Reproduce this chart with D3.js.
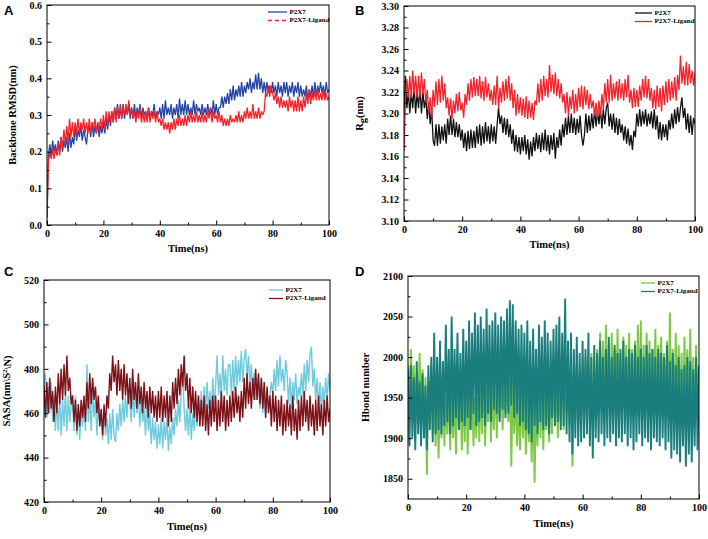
<!DOCTYPE html>
<html><head><meta charset="utf-8">
<script src="https://cdn.jsdelivr.net/npm/d3@7"></script>
<style>body{margin:0;background:#fff}svg{display:block}</style>
</head><body><svg id="c" width="708" height="539"></svg>
<script>
// ---------- DATA (sampled every 0.5 ns, 0..100 ns) ----------
const timeStep = 0.5;
const xTicks = [0, 20, 40, 60, 80, 100];
const seriesNames = ["P2X7", "P2X7-Ligand"];

// A: Backbone RMSD (nm)
const rmsdApo = [
.02,.19,.22,.19,.23,.20,.22,.19,.23,.20,
.24,.20,.23,.21,.24,.20,.25,.21,.24,.22,
.27,.23,.26,.24,.27,.23,.26,.24,.22,.26,
.27,.24,.28,.24,.27,.25,.28,.24,.27,.25,
.28,.25,.29,.26,.30,.27,.31,.28,.32,.29,
.33,.29,.32,.29,.33,.29,.32,.30,.33,.29,
.32,.29,.33,.29,.32,.30,.33,.29,.32,.30,
.31,.29,.32,.29,.31,.30,.33,.29,.31,.30,
.32,.29,.33,.29,.34,.30,.32,.30,.33,.29,
.32,.30,.33,.29,.345,.30,.33,.30,.34,.30,
.33,.30,.32,.30,.34,.30,.33,.31,.32,.30,
.33,.30,.32,.30,.33,.30,.32,.30,.34,.30,
.33,.30,.32,.32,.35,.32,.35,.33,.36,.33,
.37,.34,.38,.34,.37,.35,.38,.35,.39,.35,
.38,.36,.39,.37,.40,.36,.39,.37,.41,.37,
.415,.37,.40,.36,.39,.36,.39,.36,.38,.36,
.39,.36,.38,.35,.39,.36,.38,.35,.39,.36,
.39,.35,.38,.36,.39,.35,.38,.36,.39,.35,
.38,.35,.37,.35,.38,.34,.37,.35,.38,.35,
.39,.35,.38,.36,.39,.36,.38,.35,.39,.36,
.37];
const rmsdLig = [
.02,.17,.20,.18,.21,.18,.21,.19,.22,.19,
.24,.21,.26,.22,.27,.23,.29,.24,.28,.24,
.28,.25,.29,.25,.28,.26,.29,.25,.28,.25,
.29,.25,.28,.26,.29,.25,.28,.26,.29,.26,
.30,.26,.31,.27,.31,.28,.31,.28,.32,.28,
.32,.29,.33,.29,.32,.30,.33,.30,.34,.30,
.32,.29,.31,.28,.31,.29,.32,.28,.31,.28,
.31,.28,.32,.28,.31,.29,.31,.28,.31,.28,
.29,.27,.29,.26,.28,.26,.28,.25,.28,.26,
.29,.26,.29,.27,.30,.27,.29,.27,.30,.27,
.30,.28,.31,.28,.30,.28,.31,.28,.30,.28,
.31,.28,.30,.28,.31,.29,.32,.28,.31,.29,
.30,.28,.31,.28,.30,.27,.29,.27,.29,.27,
.30,.28,.29,.28,.30,.28,.31,.28,.30,.28,
.31,.29,.32,.29,.31,.29,.33,.29,.31,.29,
.32,.29,.31,.30,.31,.36,.35,.38,.35,.38,
.36,.34,.36,.33,.35,.32,.35,.32,.34,.32,
.34,.31,.35,.32,.34,.31,.34,.31,.35,.31,
.34,.31,.35,.32,.36,.33,.37,.33,.36,.34,
.37,.34,.37,.34,.36,.34,.37,.34,.36,.34,
.35];

// B: Rg (nm)
const rgApo = [
3.20,3.235,3.205,3.22,3.20,3.22,3.205,3.225,3.20,3.22,
3.205,3.225,3.20,3.22,3.205,3.215,3.195,3.21,3.19,3.205,
3.175,3.17,3.19,3.17,3.19,3.172,3.188,3.175,3.19,3.172,
3.195,3.18,3.198,3.18,3.195,3.178,3.192,3.178,3.19,3.175,
3.185,3.168,3.182,3.165,3.184,3.167,3.185,3.168,3.184,3.168,
3.188,3.172,3.19,3.17,3.188,3.172,3.192,3.174,3.188,3.172,
3.19,3.174,3.188,3.172,3.19,3.205,3.19,3.198,3.182,3.196,
3.18,3.195,3.178,3.19,3.172,3.185,3.165,3.18,3.164,3.178,
3.162,3.178,3.165,3.18,3.162,3.176,3.157,3.174,3.16,3.178,
3.165,3.182,3.167,3.18,3.164,3.182,3.166,3.185,3.165,3.18,
3.162,3.18,3.166,3.182,3.158,3.178,3.168,3.185,3.17,3.19,
3.178,3.196,3.18,3.198,3.182,3.20,3.182,3.196,3.18,3.195,
3.182,3.198,3.18,3.17,3.18,3.20,3.182,3.198,3.184,3.20,
3.186,3.204,3.188,3.202,3.19,3.205,3.186,3.204,3.19,3.205,
3.21,3.188,3.20,3.185,3.20,3.182,3.196,3.18,3.195,3.182,
3.19,3.175,3.188,3.172,3.186,3.17,3.18,3.166,3.184,3.178,
3.20,3.188,3.204,3.188,3.202,3.19,3.204,3.188,3.20,3.19,
3.202,3.186,3.204,3.185,3.198,3.176,3.192,3.175,3.19,3.178,
3.19,3.175,3.194,3.185,3.20,3.186,3.204,3.19,3.206,3.192,
3.205,3.215,3.196,3.205,3.185,3.20,3.182,3.198,3.18,3.196,
3.19];
const rgLig = [
3.165,3.215,3.232,3.215,3.235,3.215,3.24,3.218,3.235,3.215,
3.235,3.215,3.238,3.218,3.232,3.21,3.222,3.20,3.215,3.196,
3.222,3.206,3.23,3.208,3.232,3.21,3.235,3.212,3.228,3.205,
3.215,3.198,3.214,3.195,3.212,3.20,3.218,3.202,3.22,3.203,
3.21,3.196,3.218,3.208,3.228,3.212,3.232,3.215,3.234,3.216,
3.232,3.216,3.235,3.214,3.23,3.212,3.234,3.215,3.228,3.212,
3.222,3.208,3.226,3.208,3.235,3.205,3.224,3.21,3.23,3.212,
3.232,3.214,3.235,3.212,3.228,3.205,3.222,3.198,3.218,3.20,
3.215,3.198,3.214,3.196,3.216,3.195,3.212,3.196,3.21,3.194,
3.212,3.208,3.228,3.21,3.232,3.212,3.235,3.216,3.232,3.215,
3.245,3.22,3.236,3.218,3.238,3.216,3.232,3.214,3.228,3.21,
3.218,3.20,3.22,3.198,3.216,3.204,3.222,3.20,3.218,3.202,
3.224,3.206,3.226,3.204,3.225,3.208,3.222,3.204,3.218,3.205,
3.212,3.198,3.21,3.196,3.212,3.198,3.218,3.204,3.228,3.21,
3.232,3.21,3.236,3.212,3.228,3.214,3.23,3.212,3.232,3.214,
3.228,3.212,3.232,3.215,3.236,3.21,3.222,3.205,3.224,3.206,
3.222,3.206,3.226,3.212,3.232,3.215,3.235,3.214,3.232,3.212,
3.224,3.205,3.222,3.204,3.226,3.206,3.224,3.202,3.226,3.208,
3.23,3.21,3.232,3.212,3.23,3.214,3.234,3.212,3.236,3.222,
3.254,3.228,3.244,3.226,3.248,3.226,3.246,3.228,3.24,3.226,
3.238];

// C: SASA
const sasaApo = [
470,478,458,472,460,474,456,468,452,466,
452,468,450,466,454,470,452,468,456,464,
466,452,468,450,464,448,462,454,466,452,
482,456,468,452,470,458,466,450,464,456,
460,448,462,450,458,446,460,448,462,450,
447,460,452,464,454,466,456,468,458,470,
466,456,472,458,470,460,468,454,466,456,
462,450,466,452,460,446,458,448,456,444,
455,446,458,444,456,448,458,443,454,446,
458,450,462,454,466,456,470,478,462,452,
462,450,464,448,460,452,466,454,468,458,
470,458,472,460,474,462,470,458,476,464,
472,486,468,478,466,486,470,480,468,482,
482,468,484,470,486,472,484,474,488,474,
484,489,476,486,472,482,468,478,466,476,
474,462,476,460,472,458,470,462,468,474,
468,480,470,484,472,486,474,480,470,484,
478,464,476,462,474,466,478,464,472,468,
478,468,482,470,484,474,486,490,472,480,
466,476,462,474,460,472,464,476,466,478,
470];
const sasaLig = [
472,458,474,460,476,462,470,456,472,460,
478,464,480,466,482,468,486,470,476,464,
468,456,466,452,464,454,466,458,468,456,
474,462,478,464,476,466,472,460,468,454,
462,450,464,454,468,462,478,470,486,474,
482,468,484,470,480,466,482,468,478,464,
476,462,480,466,474,462,478,464,472,460,
474,462,470,458,472,460,470,458,468,456,
470,458,472,456,468,458,470,454,468,456,
474,462,476,464,480,468,482,472,486,470,
478,462,476,460,472,458,470,456,468,454,
466,454,468,452,464,450,466,454,468,456,
468,452,466,454,470,456,468,452,466,454,
468,456,470,458,472,460,468,456,470,458,
476,462,478,464,474,462,476,466,480,466,
478,464,476,462,474,458,472,460,468,454,
470,456,468,452,466,454,468,450,464,452,
466,454,464,450,468,452,462,448,466,452,
468,454,470,456,466,452,468,454,464,450,
466,452,468,454,464,450,466,454,468,456,
462];

// D: Hbond number
const hbApo = [
1990,1930,2010,1950,1990,1915,1980,1940,2005,1925,
1985,1900,1975,1855,1970,1920,1990,1905,1965,1890,
1980,1875,1960,1900,1985,1890,1950,1905,1970,1885,
1975,1900,1960,1880,1980,1910,1955,1885,1965,1895,
1990,1880,1960,1910,1975,1890,1950,1900,1985,1895,
1970,1905,1995,1890,1960,1920,1980,1895,1965,1910,
1985,1900,1970,1925,1990,1910,1960,1930,1980,1920,
1985,1865,1975,1905,1965,1890,1955,1885,1975,1900,
1960,1880,1970,1895,1950,1870,1960,1845,1955,1890,
1975,1900,1965,1885,1980,1910,1960,1895,1970,1905,
1985,1915,1975,1900,1965,1920,1990,1910,1960,1930,
1980,1915,1970,1865,1975,1920,1990,1910,1980,1925,
1995,1920,2000,1915,1985,1930,2005,1910,1990,1925,
2010,1930,2030,1935,2020,1925,2040,1940,2015,1920,
2030,1935,2010,1925,2035,1940,2005,1930,2025,1935,
2015,1925,2030,1940,2010,1930,2020,1935,2040,1925,
2045,1935,2015,1930,2030,1940,2020,1935,2010,1945,
2035,1930,2015,1940,2025,1935,2005,1930,2020,1925,
2055,1920,2010,1930,2030,1925,2015,1935,2005,1920,
2025,1930,2010,1915,2035,1920,2000,1925,2015,1930,
1990];
const hbLig = [
1985,1890,1990,1900,1975,1885,1995,1905,1970,1890,
1980,1900,1965,1885,1990,1910,2000,1895,2030,1905,
2000,1910,2020,1905,1995,1915,2040,1920,2010,1905,
2050,1915,2010,1925,2030,1910,2005,1920,2035,1915,
2020,1925,2045,1910,2030,1930,2055,1915,2040,1920,
2050,1925,2035,1915,2060,1930,2040,1920,2045,1935,
2055,1930,2040,1920,2050,1935,2045,1925,2060,1930,
2070,1940,2065,1925,2045,1930,2035,1915,2040,1920,
2030,1910,2045,1905,2020,1895,2035,1915,2010,1905,
2040,1920,2025,1910,2045,1915,2030,1905,2020,1925,
2035,1915,2040,1920,2050,1910,2030,1915,2072,1905,
2020,1895,2030,1880,2010,1900,2025,1890,2005,1895,
2020,1900,2010,1905,2030,1890,2000,1875,2015,1900,
2005,1895,2020,1905,2000,1890,2010,1900,2025,1895,
2000,1905,2015,1890,2005,1900,2010,1895,2020,1905,
2000,1890,2010,1900,2005,1885,2015,1895,2000,1905,
2010,1890,2000,1900,2015,1895,2005,1885,2010,1900,
2000,1895,2010,1890,2005,1900,2000,1885,2015,1895,
1995,1875,2005,1885,1990,1880,2000,1870,1985,1890,
1990,1865,2000,1880,1995,1870,1985,1890,2000,1885,
1990];

const yTicksA = [0.0, 0.1, 0.2, 0.3, 0.4, 0.5, 0.6];
const yTicksB = [3.10, 3.12, 3.14, 3.16, 3.18, 3.20, 3.22, 3.24, 3.26, 3.28, 3.30];
const yTicksC = [420, 440, 460, 480, 500, 520];
const yTicksD = [1850, 1900, 1950, 2000, 2050, 2100];

// ---------- LAYOUT ----------
const SERIF = "'Liberation Serif','Times New Roman',serif";
const panels = [
  {id:"A", l:47, r:329, t:5, b:225, dom:[0,0.6], ticks:yTicksA, fmt:d3.format(".1f"),
   ylx:14, xly:252, lx:4, ly:15, leg:{x1:268,x2:287,y:12}, sw:1.3,
   ylabel:[{t:"Backbone RMSD(nm)"}],
   series:[{v:rmsdApo,c:"#2344a3"},{v:rmsdLig,c:"#f2232b",dash:"4,3"}]},
  {id:"B", l:404, r:695, t:6, b:221, dom:[3.10,3.30], ticks:yTicksB, fmt:d3.format(".2f"),
   ylx:361, xly:248, lx:355, ly:15, leg:{x1:635,x2:652,y:13}, sw:1.3,
   ylabel:[{t:"R"},{t:"g",sub:true},{t:"(nm)"}],
   series:[{v:rgApo,c:"#111111"},{v:rgLig,c:"#f2232b"}]},
  {id:"C", l:44, r:330, t:280, b:502, dom:[420,520], ticks:yTicksC, fmt:d3.format("d"),
   ylx:8, xly:530, lx:4, ly:276, leg:{x1:269,x2:283,y:290}, sw:1.4,
   ylabel:[{t:"SASA(nm\\S"},{t:"2",sup:true},{t:"\\N)"}],
   series:[{v:sasaApo,c:"#6fcbdc"},{v:sasaLig,c:"#7c1118"}]},
  {id:"D", l:408, r:699, t:276, b:499, dom:[1825,2100], ticks:yTicksD, fmt:d3.format("d"),
   ylx:367, xly:527, lx:355, ly:276, leg:{x1:641,x2:655,y:283}, sw:1.9,
   ylabel:[{t:"Hbond number"}],
   series:[{v:hbApo,c:"#7dc943"},{v:hbLig,c:"#1a7d7e"}]}
];

const svg = d3.select("#c");
const defs = svg.append("defs");

function draw(p){
  const x = d3.scaleLinear().domain([0,100]).range([p.l,p.r]);
  const y = d3.scaleLinear().domain(p.dom).range([p.b,p.t]);
  const g = svg.append("g");
  defs.append("clipPath").attr("id","clip"+p.id).append("rect")
    .attr("x",p.l).attr("y",p.t).attr("width",p.r-p.l).attr("height",p.b-p.t);
  const plot = g.append("g").attr("clip-path",`url(#clip${p.id})`);
  const line = d3.line().x((d,i)=>x(i*timeStep)).y(d=>y(d));
  p.series.forEach(s=>{
    plot.append("path").attr("d",line(s.v)).attr("fill","none")
      .attr("stroke",s.c).attr("stroke-width",p.sw).attr("stroke-linejoin","bevel");
  });

  // minor ticks
  const xMinor = [10,30,50,70,90];
  g.append("g").attr("transform",`translate(0,${p.b})`)
    .call(d3.axisBottom(x).tickValues(xMinor).tickSize(-2.5).tickFormat("").tickSizeOuter(0))
    .call(a=>a.select(".domain").remove());
  const yMin = [];
  for(let i=0;i<p.ticks.length-1;i++) yMin.push((p.ticks[i]+p.ticks[i+1])/2);
  g.append("g").attr("transform",`translate(${p.l},0)`)
    .call(d3.axisLeft(y).tickValues(yMin).tickSize(-2.5).tickFormat("").tickSizeOuter(0))
    .call(a=>a.select(".domain").remove());

  // major
  const xa = g.append("g").attr("transform",`translate(0,${p.b})`)
    .call(d3.axisBottom(x).tickValues(xTicks).tickSize(-4.5).tickPadding(5).tickSizeOuter(0));
  xa.select(".domain").remove();
  const ya = g.append("g").attr("transform",`translate(${p.l},0)`)
    .call(d3.axisLeft(y).tickValues(p.ticks).tickSize(-4.5).tickPadding(5).tickFormat(p.fmt).tickSizeOuter(0));
  ya.select(".domain").remove();
  g.selectAll(".tick text").attr("font-family",SERIF).attr("font-weight","bold").attr("font-size",10).attr("fill","#000");
  g.selectAll(".tick line").attr("stroke","#000");

  // frame
  g.append("rect").attr("x",p.l).attr("y",p.t).attr("width",p.r-p.l).attr("height",p.b-p.t)
    .attr("fill","none").attr("stroke","#000").attr("stroke-width",1);

  // axis titles
  g.append("text").attr("x",(p.l+p.r)/2).attr("y",p.xly).attr("text-anchor","middle")
    .attr("font-family",SERIF).attr("font-weight","bold").attr("font-size",10.5).text("Time(ns)");
  const yt = g.append("text").attr("transform",`translate(${p.ylx},${(p.t+p.b)/2}) rotate(-90)`)
    .attr("text-anchor","middle").attr("dominant-baseline","middle")
    .attr("font-family",SERIF).attr("font-weight","bold").attr("font-size",10.5);
  let reset = null;
  p.ylabel.forEach(part=>{
    const ts = yt.append("tspan").text(part.t);
    if(reset){ ts.attr("dy",reset); reset = null; }
    if(part.sup){ ts.attr("dy","-0.4em").attr("font-size",7); reset = "0.4em"; }
    if(part.sub){ ts.attr("dy","0.25em"); reset = "-0.25em"; }
  });

  // panel letter
  g.append("text").attr("x",p.lx).attr("y",p.ly).attr("font-family","'Liberation Sans',Arial,sans-serif")
    .attr("font-weight","bold").attr("font-size",13).text(p.id);

  // legend
  p.series.forEach((s,i)=>{
    const yy = p.leg.y + i*8.5;
    g.append("line").attr("x1",p.leg.x1).attr("x2",p.leg.x2).attr("y1",yy).attr("y2",yy)
      .attr("stroke",s.c).attr("stroke-width",1.3).attr("stroke-dasharray",s.dash||null);
    g.append("text").attr("x",p.leg.x2+2.5).attr("y",yy).attr("dominant-baseline","middle")
      .attr("font-family",SERIF).attr("font-weight","bold").attr("font-size",7).text(seriesNames[i]);
  });
}
panels.forEach(draw);
</script>
</body></html>
